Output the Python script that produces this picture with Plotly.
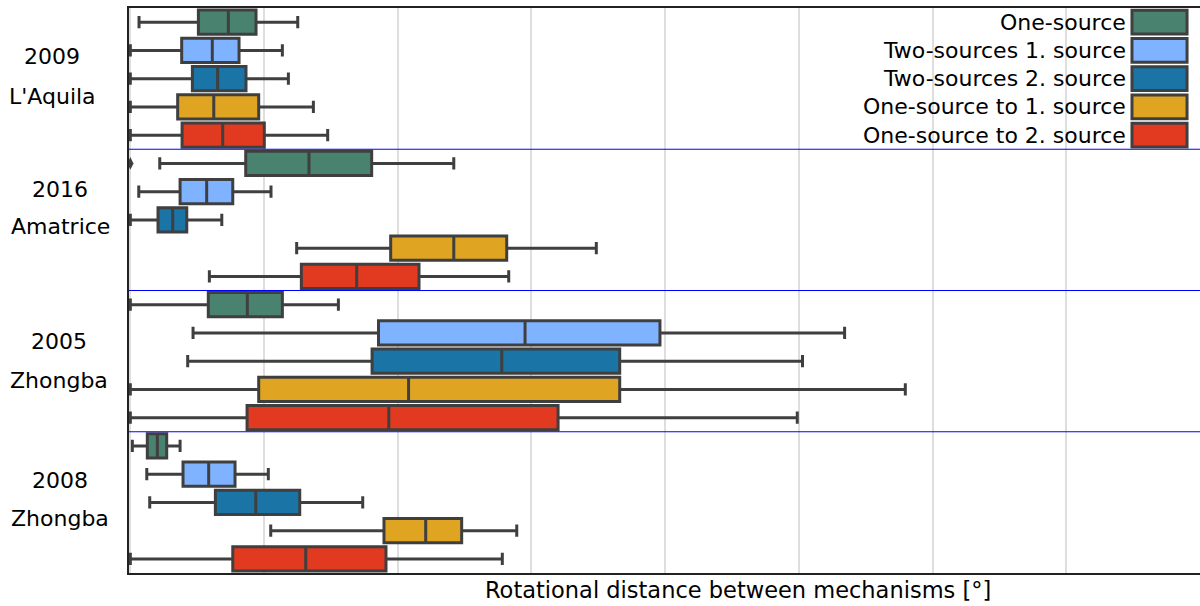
import plotly.graph_objects as go

# ---------------- data ----------------
event_years = ["2009", "2016", "2005", "2008"]
event_names = ["L'Aquila", "Amatrice", "Zhongba", "Zhongba"]
series_names = ["One-source", "Two-sources 1. source", "Two-sources 2. source",
                "One-source to 1. source", "One-source to 2. source"]

# per series: values for events [2009, 2016, 2005, 2008]
lower = [
    [0.65, 2.20, 0.00, 0.15],
    [0.00, 0.63, 4.69, 1.23],
    [0.00, 0.00, 4.29, 1.45],
    [0.00, 12.44, 0.00, 10.50],
    [0.00, 5.91, 0.00, 0.00],
]
q1 = [
    [5.09, 8.63, 5.83, 1.27],
    [3.84, 3.72, 18.56, 3.94],
    [4.64, 2.07, 18.08, 6.36],
    [3.54, 19.47, 9.60, 18.97],
    [3.87, 12.79, 8.73, 7.66],
]
median = [
    [7.33, 13.36, 8.75, 2.02],
    [6.13, 5.71, 29.52, 5.86],
    [6.53, 3.17, 27.78, 9.38],
    [6.24, 24.19, 20.81, 22.09],
    [6.91, 16.93, 19.33, 13.12],
]
q3 = [
    [9.40, 18.05, 11.37, 2.72],
    [8.13, 7.66, 39.61, 7.83],
    [8.65, 4.22, 36.60, 12.67],
    [9.60, 28.15, 36.60, 24.78],
    [10.02, 21.59, 31.99, 19.12],
]
upper = [
    [12.52, 24.19, 15.56, 3.72],
    [11.37, 10.52, 53.42, 10.32],
    [11.82, 6.84, 50.27, 17.38],
    [13.69, 34.85, 57.96, 28.90],
    [14.76, 28.30, 49.88, 27.82],
]
# outliers: (series index, event index, value)
outlier_series = [0]
outlier_event = [1]
outlier_value = [0.0]

# ---------------- style ----------------
colors = ["#4a8270", "#80b3ff", "#1a74a6", "#dea422", "#e13a20"]
edge = "#3f3f3f"
n_series = len(series_names)
n_events = len(event_years)
FONT = "DejaVu Sans"

fig = go.Figure()
for s in range(n_series):
    ypos = [e * n_series + s for e in range(n_events)]
    fig.add_trace(go.Box(
        y=ypos, orientation="h",
        q1=q1[s], median=median[s], q3=q3[s],
        lowerfence=lower[s], upperfence=upper[s],
        fillcolor=colors[s], line=dict(color=edge, width=3),
        width=0.85, whiskerwidth=0.5, name=series_names[s],
        boxpoints=False, showlegend=False, hoverinfo="skip",
    ))

fig.add_trace(go.Scatter(
    x=outlier_value,
    y=[e * n_series + s for s, e in zip(outlier_series, outlier_event)],
    mode="markers",
    marker=dict(symbol="diamond-tall", size=9, color=edge),
    showlegend=False, hoverinfo="skip",
))

shapes = []
# group separators
for e in range(1, n_events):
    yb = e * n_series - 0.5
    shapes.append(dict(type="line", xref="paper", yref="y", x0=0, x1=1, y0=yb, y1=yb,
                       line=dict(color="#0000ff", width=1.2), layer="above"))

annotations = []
# custom legend (text right, swatch right)
for s in range(n_series):
    shapes.append(dict(type="rect", xref="paper", yref="y",
                       x0=0.9365, x1=0.9879, y0=s - 0.42, y1=s + 0.42,
                       fillcolor=colors[s], line=dict(color=edge, width=3), layer="above"))
    annotations.append(dict(text=series_names[s], xref="paper", yref="y",
                            x=0.9325, y=s, xanchor="right", yanchor="middle",
                            showarrow=False, font=dict(family=FONT, size=22, color="black")))

# event labels
year_y = [1.22, 5.94, 11.31, 16.24]
name_y = [2.63, 7.23, 12.67, 17.57]
label_x = [52, 60, 59, 60]
for e in range(n_events):
    xp = (label_x[e] - 129) / 1071
    annotations.append(dict(text=event_years[e], xref="paper", yref="y", x=xp, y=year_y[e],
                            xanchor="center", yanchor="middle", showarrow=False,
                            font=dict(family=FONT, size=22, color="black")))
    annotations.append(dict(text=event_names[e], xref="paper", yref="y", x=xp, y=name_y[e],
                            xanchor="center", yanchor="middle", showarrow=False,
                            font=dict(family=FONT, size=22, color="black")))

# x axis title
annotations.append(dict(text="Rotational distance between mechanisms [°]",
                        xref="paper", yref="paper", x=(738 - 129) / 1071, y=-0.030,
                        xanchor="center", yanchor="middle", showarrow=False,
                        font=dict(family=FONT, size=22.5, color="black")))

fig.update_layout(
    width=1200, height=606,
    margin=dict(l=129, r=0, t=8, b=33),
    paper_bgcolor="white", plot_bgcolor="white",
    boxmode="overlay",
    shapes=shapes, annotations=annotations,
    showlegend=False,
    xaxis=dict(range=[-0.1, 80], dtick=10, tick0=0, showgrid=True, gridcolor="#dedede",
               gridwidth=1.5, showticklabels=False, ticks="", zeroline=False,
               showline=True, linecolor="#222222", linewidth=1.5, mirror=True),
    yaxis=dict(range=[n_events * n_series - 0.5, -0.5], showgrid=False, showticklabels=False,
               ticks="", zeroline=False, showline=True, linecolor="#222222", linewidth=1.5),
)

fig.write_html("out.html")
